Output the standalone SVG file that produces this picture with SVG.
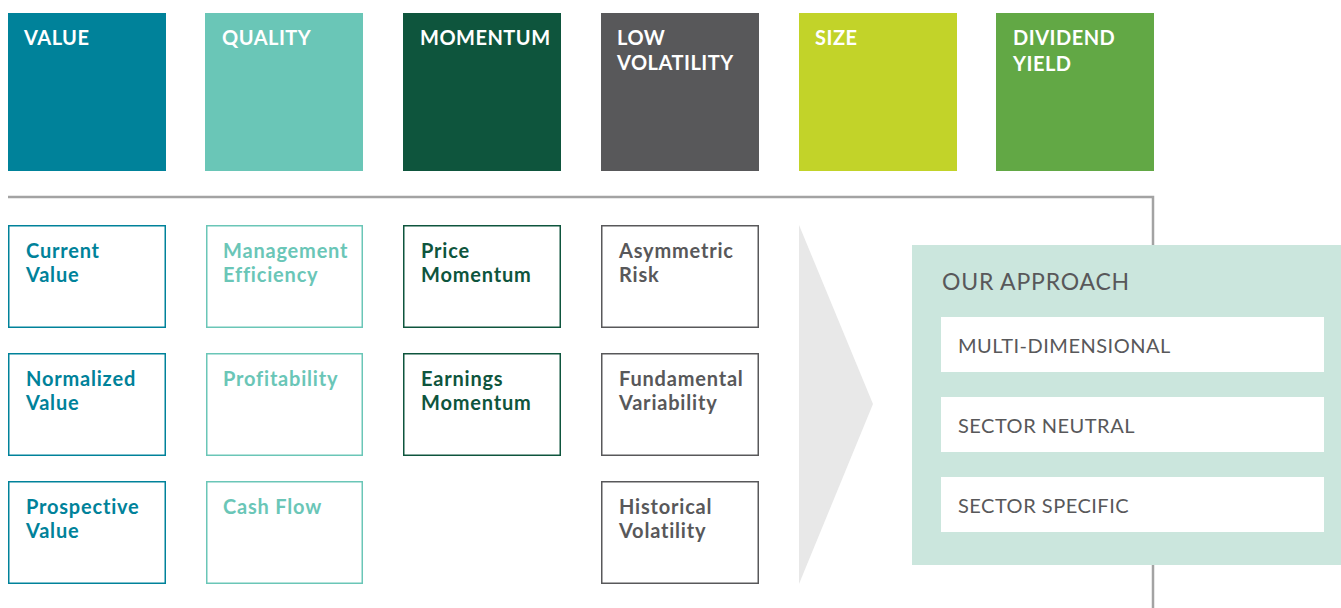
<svg xmlns="http://www.w3.org/2000/svg" width="1341" height="608" viewBox="0 0 1341 608">
<style>
.hd{font-family:Lato,"Liberation Sans",sans-serif;font-size:20px;font-weight:bold;fill:#fff;letter-spacing:0.5px}
.sb{fill:#fff;stroke-width:1.5}
.st{font-family:Lato,"Liberation Sans",sans-serif;font-size:20px;font-weight:bold;letter-spacing:0.8px}
.ap{font-family:Lato,"Liberation Sans",sans-serif;font-size:20px;fill:#58585a;letter-spacing:0.5px}
.v{fill:#00829a}.vs{stroke:#00829a}
.q{fill:#6ac6b7}.qs{stroke:#6ac6b7}
.m{fill:#0e553d}.ms{stroke:#0e553d}
.l{fill:#58585a}.ls{stroke:#58585a}
</style>
<rect width="1341" height="608" fill="#fff"/>
<g id="connectors">
<polyline points="8,197 1153,197 1153,608" fill="none" stroke="#a3a3a3" stroke-width="2.5"/>
<polygon points="799,225 873,404 799,584" fill="#e8e8e8"/>
</g>
<g id="value"><rect x="8" y="13" width="158" height="158" class="v"/><text x="24" y="45" class="hd">VALUE</text></g>
<g id="quality"><rect x="205" y="13" width="158" height="158" class="q"/><text x="222" y="45" class="hd">QUALITY</text></g>
<g id="momentum"><rect x="403" y="13" width="158" height="158" class="m"/><text x="420" y="45" class="hd">MOMENTUM</text></g>
<g id="lowvol"><rect x="601" y="13" width="158" height="158" class="l"/><text x="617" y="45" class="hd">LOW<tspan x="617" y="70">VOLATILITY</tspan></text></g>
<g id="size"><rect x="799" y="13" width="158" height="158" fill="#c2d329"/><text x="815" y="45" class="hd">SIZE</text></g>
<g id="dividend"><rect x="996" y="13" width="158" height="158" fill="#62a845"/><text x="1013" y="45" class="hd">DIVIDEND<tspan x="1013" y="71">YIELD</tspan></text></g>

<g id="current-value"><rect x="8.75" y="225.75" width="156.5" height="101.5" class="sb vs"/><text x="26" y="258" class="st v">Current<tspan x="26" y="282">Value</tspan></text></g>
<g id="normalized-value"><rect x="8.75" y="353.75" width="156.5" height="101.5" class="sb vs"/><text x="26" y="386" class="st v">Normalized<tspan x="26" y="410">Value</tspan></text></g>
<g id="prospective-value"><rect x="8.75" y="481.75" width="156.5" height="101.5" class="sb vs"/><text x="26" y="514" class="st v">Prospective<tspan x="26" y="538">Value</tspan></text></g>

<g id="management-efficiency"><rect x="206.75" y="225.75" width="155.5" height="101.5" class="sb qs"/><text x="223" y="258" class="st q">Management<tspan x="223" y="282">Efficiency</tspan></text></g>
<g id="profitability"><rect x="206.75" y="353.75" width="155.5" height="101.5" class="sb qs"/><text x="223" y="386" class="st q">Profitability</text></g>
<g id="cash-flow"><rect x="206.75" y="481.75" width="155.5" height="101.5" class="sb qs"/><text x="223" y="514" class="st q">Cash Flow</text></g>

<g id="price-momentum"><rect x="403.75" y="225.75" width="156.5" height="101.5" class="sb ms"/><text x="421" y="258" class="st m">Price<tspan x="421" y="282">Momentum</tspan></text></g>
<g id="earnings-momentum"><rect x="403.75" y="353.75" width="156.5" height="101.5" class="sb ms"/><text x="421" y="386" class="st m">Earnings<tspan x="421" y="410">Momentum</tspan></text></g>

<g id="asymmetric-risk"><rect x="601.75" y="225.75" width="156.5" height="101.5" class="sb ls"/><text x="619" y="258" class="st l">Asymmetric<tspan x="619" y="282">Risk</tspan></text></g>
<g id="fundamental-variability"><rect x="601.75" y="353.75" width="156.5" height="101.5" class="sb ls"/><text x="619" y="386" class="st l">Fundamental<tspan x="619" y="410">Variability</tspan></text></g>
<g id="historical-volatility"><rect x="601.75" y="481.75" width="156.5" height="101.5" class="sb ls"/><text x="619" y="514" class="st l">Historical<tspan x="619" y="538">Volatility</tspan></text></g>

<g id="our-approach">
<rect x="912" y="245" width="429" height="320" fill="#cbe6dd"/>
<text x="942" y="290" font-family="Lato,'Liberation Sans',sans-serif" font-size="23" letter-spacing="0.8" fill="#58585a">OUR APPROACH</text>
<rect x="941" y="317" width="383" height="55" fill="#fff"/>
<text x="958" y="353" class="ap">MULTI-DIMENSIONAL</text>
<rect x="941" y="397" width="383" height="55" fill="#fff"/>
<text x="958" y="433" class="ap">SECTOR NEUTRAL</text>
<rect x="941" y="477" width="383" height="55" fill="#fff"/>
<text x="958" y="513" class="ap">SECTOR SPECIFIC</text>
</g>
</svg>
